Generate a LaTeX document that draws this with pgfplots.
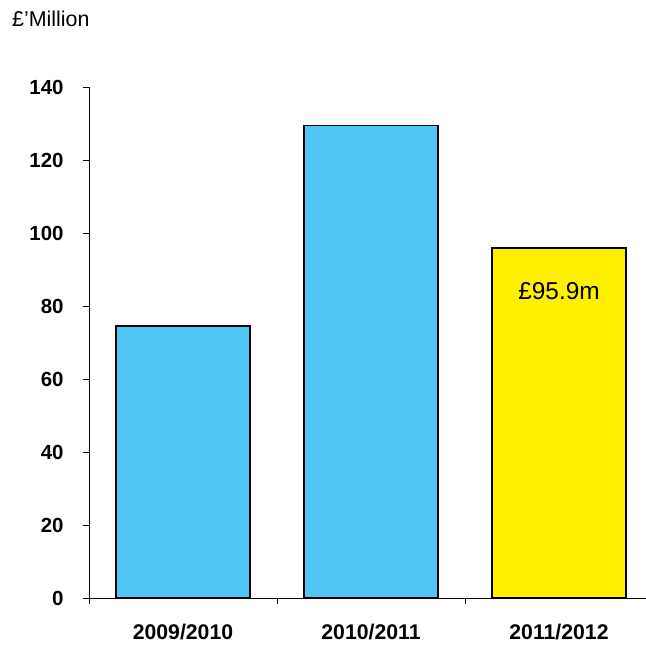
\documentclass[border=0pt]{standalone}
\usepackage{pgfplots}
\pgfplotsset{compat=1.18}
\usepackage{fontspec}
\setmainfont{Liberation Sans}
\definecolor{barblue}{RGB}{80,198,245}
\definecolor{baryellow}{RGB}{255,240,0}
\begin{document}
\begin{tikzpicture}
\useasboundingbox (0,0) rectangle (646bp,646bp);
\begin{axis}[
  at={(89bp,48bp)}, anchor=south west,
  scale only axis, width=564bp, height=511bp,
  xmin=-0.5, xmax=2.5, ymin=0, ymax=140,
  axis x line*=bottom, axis y line*=left,
  axis line style={black, line width=0.9bp},
  ytick={0,20,...,140},
  xtick={-0.5,0.5,1.5}, xticklabels={},
  extra x ticks={0,1,2},
  extra x tick labels={2009/2010,2010/2011,2011/2012},
  extra x tick style={major tick length=0pt, tick label style={yshift=-23bp, font=\bfseries\fontsize{21.3}{25}\selectfont}},
  tick align=outside,
  major tick length=6bp,
  tick style={black, line width=0.8bp},
  ticklabel style={font=\bfseries\fontsize{20.5}{24}\selectfont},
  yticklabel style={xshift=-16bp},
  /pgf/number format/assume math mode=true,
  ybar, bar width=0.71,
  clip=false,
]
\addplot[bar shift=0pt, fill=barblue, draw=black, line width=1.6bp] coordinates {(0,74.6) (1,129.4)};
\addplot[bar shift=0pt, fill=baryellow, draw=black, line width=1.6bp] coordinates {(2,95.9)};
\node[font=\fontsize{24.5}{29}\selectfont] at (axis cs:2,84) {£95.9m};
\end{axis}
\node[anchor=base west, font=\fontsize{21.5}{25}\selectfont, inner sep=0pt] at (12bp,619bp) {£'Million};
\end{tikzpicture}
\end{document}
